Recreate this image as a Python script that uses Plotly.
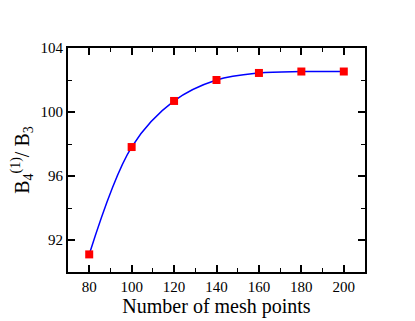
import plotly.graph_objects as go

mesh_points = [80, 100, 120, 140, 160, 180, 200]
ratio = [91.1, 97.81, 100.69, 102.0, 102.44, 102.53, 102.53]

x_ticks = [80, 100, 120, 140, 160, 180, 200]
y_ticks = [92, 96, 100, 104]

fig = go.Figure()
fig.add_trace(
    go.Scatter(
        x=mesh_points,
        y=ratio,
        mode="lines",
        line=dict(color="#0000FF", width=1.5, shape="spline", smoothing=1.0),
        showlegend=False,
    )
)
fig.add_trace(
    go.Scatter(
        x=mesh_points,
        y=ratio,
        mode="markers",
        marker=dict(symbol="square", size=8, color="#FF0000"),
        showlegend=False,
    )
)

axis_common = dict(
    showline=True,
    linecolor="black",
    linewidth=2,
    mirror="ticks",
    ticks="inside",
    ticklen=7,
    tickwidth=1.5,
    tickcolor="black",
    showgrid=False,
    zeroline=False,
    tickfont=dict(family="Liberation Serif", size=15, color="black"),
)

fig.update_xaxes(
    range=[70, 210],
    tickvals=x_ticks,
    minor=dict(dtick=10, tick0=70, ticks="inside", ticklen=4, tickwidth=1, tickcolor="black"),
    title=dict(text="Number of mesh points", font=dict(family="Liberation Serif", size=20, color="black"), standoff=0),
    **axis_common,
)
fig.update_yaxes(
    range=[90, 104],
    tickvals=y_ticks,
    minor=dict(dtick=2, tick0=90, ticks="inside", ticklen=4, tickwidth=1, tickcolor="black"),
    title=dict(text="B<sub>4</sub><sup>(1)</sup>/ B<sub>3</sub>", font=dict(family="Liberation Serif", size=20, color="black"), standoff=6),
    **axis_common,
)

# the page adds an 8px body margin, so the figure is drawn 8px smaller and shifted
fig.update_layout(
    width=407,
    height=313,
    margin=dict(l=54, r=50, t=40, b=49),
    plot_bgcolor="white",
    paper_bgcolor="white",
)

fig.write_html("out.html")
